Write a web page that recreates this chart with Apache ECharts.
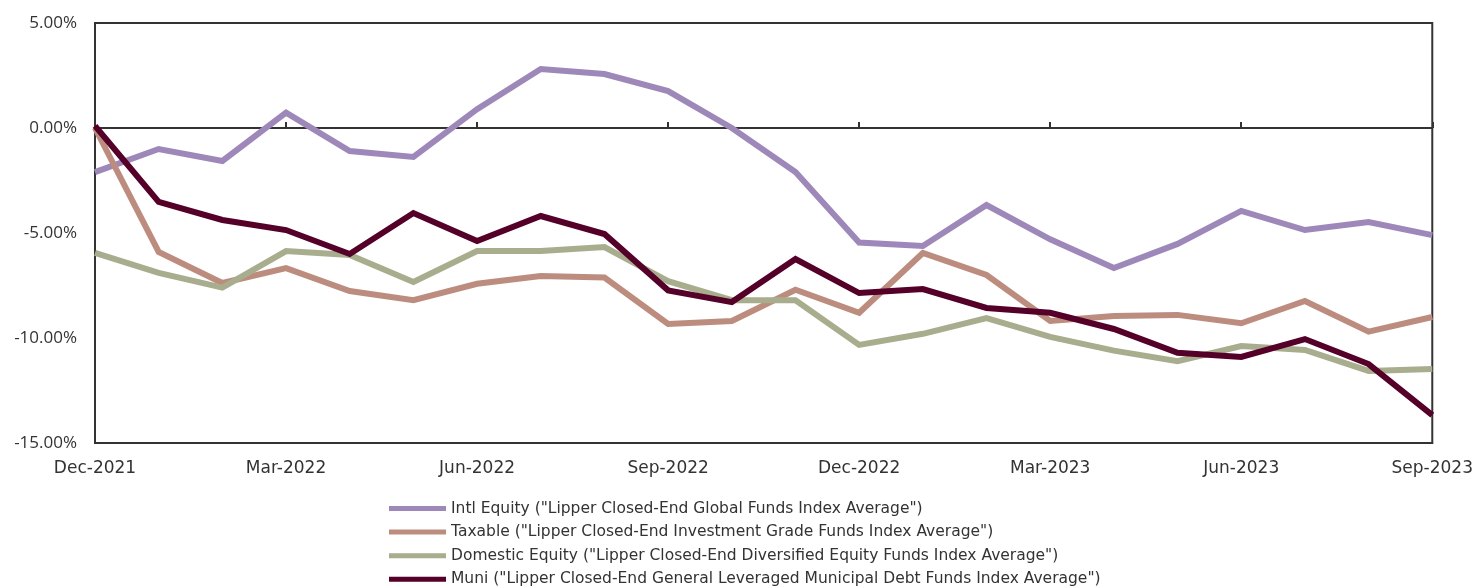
<!DOCTYPE html>
<html>
<head>
<meta charset="utf-8">
<script src="https://cdn.jsdelivr.net/npm/echarts@6/dist/echarts.min.js"></script>
<style>
html,body{margin:0;padding:0;background:#fff;}
#chart{width:1476px;height:588px;}
</style>
</head>
<body>
<div id="chart"></div>
<script>
const months = ['Dec-2021','Jan-2022','Feb-2022','Mar-2022','Apr-2022','May-2022','Jun-2022','Jul-2022','Aug-2022','Sep-2022','Oct-2022','Nov-2022','Dec-2022','Jan-2023','Feb-2023','Mar-2023','Apr-2023','May-2023','Jun-2023','Jul-2023','Aug-2023','Sep-2023'];
const intlEquity = [-2.1,-1.0,-1.57,0.73,-1.1,-1.38,0.9,2.81,2.57,1.76,0.0,-2.1,-5.45,-5.62,-3.67,-5.3,-6.67,-5.52,-3.95,-4.86,-4.48,-5.1];
const taxable = [0.0,-5.9,-7.38,-6.67,-7.76,-8.2,-7.42,-7.05,-7.12,-9.33,-9.19,-7.7,-8.8,-5.95,-7.0,-9.19,-8.95,-8.9,-9.3,-8.24,-9.7,-9.0];
const domesticEquity = [-5.95,-6.9,-7.6,-5.86,-6.05,-7.33,-5.86,-5.86,-5.67,-7.29,-8.2,-8.2,-10.33,-9.8,-9.05,-9.95,-10.6,-11.1,-10.38,-10.57,-11.57,-11.48];
const muni = [0.1,-3.52,-4.38,-4.86,-6.0,-4.05,-5.38,-4.19,-5.05,-7.73,-8.29,-6.24,-7.86,-7.67,-8.57,-8.8,-9.57,-10.7,-10.9,-10.05,-11.24,-13.67];
const seriesNames = [
  'Intl Equity ("Lipper Closed-End Global Funds Index Average")',
  'Taxable ("Lipper Closed-End Investment Grade Funds Index Average")',
  'Domestic Equity ("Lipper Closed-End Diversified Equity Funds Index Average")',
  'Muni ("Lipper Closed-End General Leveraged Municipal Debt Funds Index Average")'
];
const yTicks = {min: -15, max: 5, interval: 5};

const colors = ['#9d88b9', '#bc8d7f', '#a8ad8d', '#540028'];
const FONT = 'Open Sans';
const WIDE = 'DejaVu Sans';
const chart = echarts.init(document.getElementById('chart'), null, {renderer: 'canvas'});
const data = [intlEquity, taxable, domesticEquity, muni];
chart.setOption({
  animation: false,
  backgroundColor: '#ffffff',
  grid: {left: 95, right: 43, top: 23, bottom: 145, show: true, borderColor: '#333333', borderWidth: 2, backgroundColor: 'transparent'},
  legend: {
    orient: 'vertical', left: 389, top: 500, padding: 0,
    icon: 'rect', itemWidth: 57, itemHeight: 5, itemGap: 6.6,
    data: seriesNames,
    textStyle: {fontFamily: WIDE, fontSize: 15.5, lineHeight: 17, color: '#333333', padding: [0,0,0,0]}
  },
  xAxis: [{
    type: 'category', data: months, boundaryGap: false,
    axisLine: {onZero: false, lineStyle: {color: '#333333', width: 2}},
    axisTick: {show: false},
    axisLabel: {interval: 2, fontFamily: WIDE, fontSize: 17, color: '#333333', margin: 17},
    splitLine: {show: false}
  }, {
    type: 'category', data: months, boundaryGap: false, position: 'bottom',
    axisLine: {onZero: true, lineStyle: {color: '#333333', width: 2}},
    axisTick: {show: true, inside: true, length: 6, interval: 2, lineStyle: {color: '#333333', width: 2}},
    axisLabel: {show: false},
    splitLine: {show: false}
  }],
  yAxis: {
    type: 'value', min: yTicks.min, max: yTicks.max, interval: yTicks.interval,
    axisLine: {show: true, lineStyle: {color: '#333333', width: 2}},
    axisTick: {show: false},
    splitLine: {show: false},
    axisLabel: {fontFamily: FONT, fontSize: 17, color: '#333333', margin: 18,
      formatter: v => v.toFixed(2) + '%'}
  },
  series: seriesNames.map((n, i) => ({
    name: n, type: 'line', data: data[i], showSymbol: false, symbol: 'none',
    lineStyle: {color: colors[i], width: 6, join: 'miter'},
    itemStyle: {color: colors[i]},
    emphasis: {disabled: true}
  }))
});
</script>
</body>
</html>
